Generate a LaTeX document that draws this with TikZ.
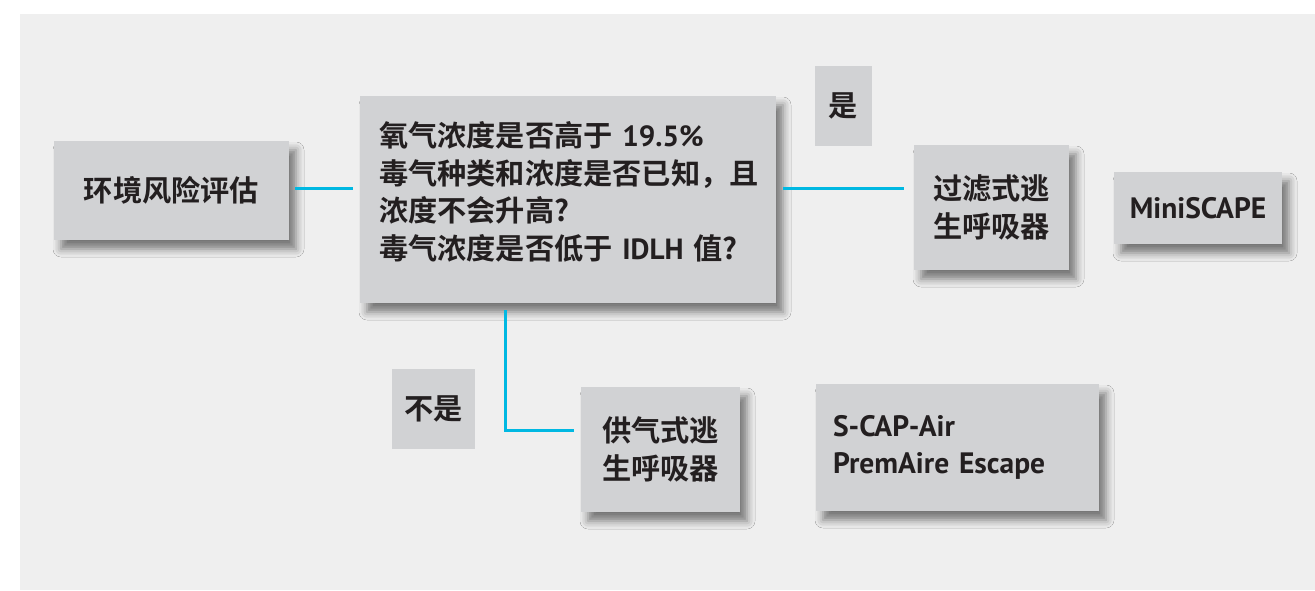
\documentclass[tikz,border=0pt]{standalone}
\usepackage{fontspec}
\setmainfont{Noto Sans CJK SC}[BoldFont={Noto Sans CJK SC Bold}]
\newfontfamily\latinfont{PT Sans}
\usetikzlibrary{shadows.blur}
\definecolor{panel}{HTML}{EFEFEF}
\definecolor{boxgray}{HTML}{D1D2D4}
\definecolor{ink}{HTML}{231F20}
\definecolor{cyanline}{HTML}{00B8E2}
\tikzset{
  box/.style={fill=boxgray, inner sep=0pt, text=ink, font=\bfseries\fontsize{29.2}{37.5}\selectfont, align=center},
  latinbox/.style={box, font=\latinfont\bfseries\fontsize{29.5}{37}\selectfont},
  shadowed/.style={blur shadow={shadow xshift=7pt, shadow yshift=-9pt, shadow blur radius=8pt, shadow opacity=50}},
  conn/.style={draw=cyanline, line width=3pt}
}
\begin{document}
\begin{tikzpicture}[x=1pt,y=-1pt]
\useasboundingbox (0,0) rectangle (1315,590);
\fill[white] (0,0) rectangle (1315,590);
\fill[panel] (20,14) rectangle (1315,590);

\node[box, shadowed, minimum width=235pt, minimum height=99pt] (n1) at (171.5,190.5) {环境风险评估};
\node[box, shadowed, minimum width=416pt, minimum height=207pt, inner xsep=19pt, text width=378pt, align=left] (n2) at (568,199.5)
  {\rule{0pt}{5pt}\\[-33pt]氧气浓度是否高于 {\latinfont\bfseries 19.5\%}\\毒气种类和浓度是否已知，且\\浓度不会升高?\\毒气浓度是否低于 {\latinfont\bfseries IDLH} 值?};
\node[box, minimum width=57pt, minimum height=80pt] (n3) at (843.5,106) {是};
\node[box, shadowed, minimum width=155pt, minimum height=125pt] (n4) at (991.5,207.5) {过滤式逃\\生呼吸器};
\node[latinbox, shadowed, minimum width=168pt, minimum height=72pt] (n5) at (1198,208) {MiniSCAPE};
\node[box, minimum width=83pt, minimum height=80pt] (n6) at (433.5,409) {不是};
\node[box, shadowed, minimum width=159pt, minimum height=125pt] (n7) at (660.5,449.5) {供气式逃\\生呼吸器};
\node[latinbox, shadowed, minimum width=283pt, minimum height=127pt, inner xsep=17pt, text width=249pt, align=left] (n8) at (957.5,447.5)
  {S-CAP-Air\\PremAire Escape};

\coordinate (ly) at (0,188);
\coordinate (lz) at (505,430);
\draw[conn] ([xshift=6pt]n1.east |- ly) -- ([xshift=-7pt]n2.west |- ly);
\draw[conn] ([xshift=7pt]n2.east |- ly) -- ([xshift=-10pt]n4.west |- ly);
\draw[conn] ([yshift=-7pt]n2.south -| lz) |- ([xshift=-7pt]n7.west |- lz);
\end{tikzpicture}
\end{document}
